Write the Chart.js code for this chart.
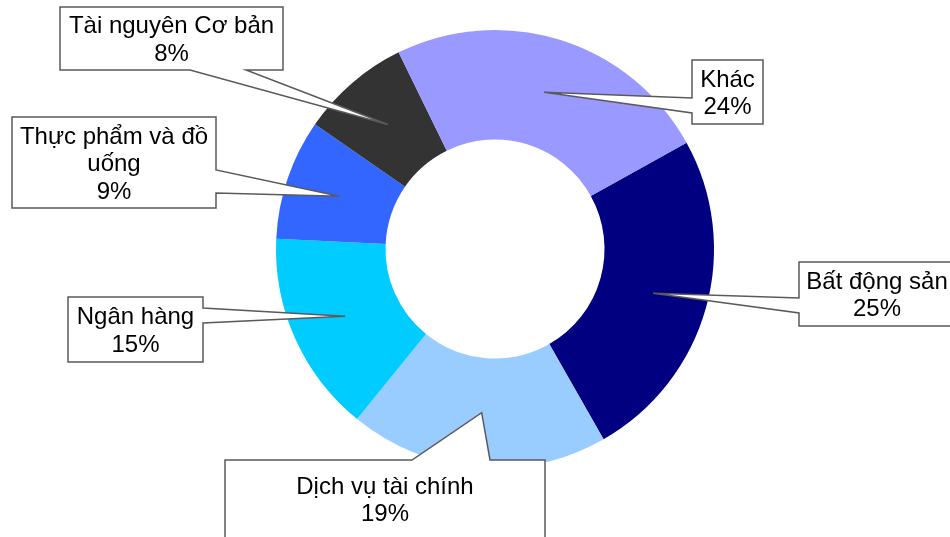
<!DOCTYPE html>
<html>
<head>
<meta charset="utf-8">
<script src="https://cdn.jsdelivr.net/npm/chart.js@4/dist/chart.umd.min.js"></script>
<style>
  html, body { margin: 0; padding: 0; background: #fff; }
  #wrap { width: 950px; height: 537px; position: relative; }
</style>
</head>
<body>
<div id="wrap"><canvas id="chart"></canvas></div>
<script>
// Dữ liệu cơ cấu ngành (%)
const categories = ['Bất động sản', 'Dịch vụ tài chính', 'Ngân hàng', 'Thực phẩm và đồ uống', 'Tài nguyên Cơ bản', 'Khác'];
const shares = [24.8, 19.1, 14.9, 8.9, 8.1, 24.2];
const colors = ['#000080', '#99CCFF', '#00CCFF', '#3366FF', '#333333', '#9999FF'];

// Vị trí hộp chú thích (kiểu "wedge callout" của Excel), cùng thứ tự với categories
const callouts = [
    { x: 799, y: 262, w: 156, h: 64, side: 'left', a: 298, b: 313 },
    { x: 225, y: 460, w: 320, h: 78, side: 'top', a: 412, b: 490 },
    { x: 68, y: 297, w: 135, h: 65, side: 'right', a: 308, b: 323 },
    { x: 12, y: 117, w: 204, h: 91, side: 'right', a: 170, b: 193 },
    { x: 60, y: 7, w: 223, h: 63, side: 'bottom', a: 190, b: 246 },
    { x: 692, y: 60, w: 71, h: 64, side: 'left', a: 98, b: 113 },
];

const FONT = '24px "Liberation Sans", Arial, sans-serif';
const LINE_H = 27.5;

function wrapText(ctx, text, maxW) {
    const words = text.split(' ');
    const lines = [];
    let cur = '';
    words.forEach((w) => {
        const t = cur ? cur + ' ' + w : w;
        if (cur && ctx.measureText(t).width > maxW) {
            lines.push(cur);
            cur = w;
        } else {
            cur = t;
        }
    });
    if (cur) lines.push(cur);
    return lines;
}

const calloutPlugin = {
    id: 'callouts',
    afterDatasetsDraw(chart) {
        const ctx = chart.ctx;
        const meta = chart.getDatasetMeta(0);
        const total = shares.reduce((s, v) => s + v, 0);
        ctx.save();
        ctx.font = FONT;
        meta.data.forEach((arc, i) => {
            const c = callouts[i];
            if (!c) return;
            const tip = arc.tooltipPosition();
            const { x, y, w, h, a, b } = c;
            const pts = [];
            if (c.side === 'bottom') {
                pts.push([x, y], [x + w, y], [x + w, y + h], [b, y + h], [tip.x, tip.y], [a, y + h], [x, y + h]);
            } else if (c.side === 'top') {
                pts.push([x, y], [a, y], [tip.x, tip.y], [b, y], [x + w, y], [x + w, y + h], [x, y + h]);
            } else if (c.side === 'right') {
                pts.push([x, y], [x + w, y], [x + w, a], [tip.x, tip.y], [x + w, b], [x + w, y + h], [x, y + h]);
            } else {
                pts.push([x, y], [x + w, y], [x + w, y + h], [x, y + h], [x, b], [tip.x, tip.y], [x, a]);
            }
            ctx.beginPath();
            pts.forEach((p, k) => (k ? ctx.lineTo(p[0], p[1]) : ctx.moveTo(p[0], p[1])));
            ctx.closePath();
            ctx.fillStyle = '#ffffff';
            ctx.fill();
            ctx.lineWidth = 1.5;
            ctx.strokeStyle = '#5a5a5a';
            ctx.stroke();

            const lines = wrapText(ctx, categories[i], w - 12);
            lines.push(Math.round(shares[i] / total * 100) + '%');
            ctx.fillStyle = '#000000';
            ctx.textAlign = 'center';
            ctx.textBaseline = 'middle';
            const top = y + h / 2 - (lines.length * LINE_H) / 2 + LINE_H / 2;
            lines.forEach((ln, k) => ctx.fillText(ln, x + w / 2, top + k * LINE_H + 2));
        });
        ctx.restore();
    },
};

new Chart(document.getElementById('chart'), {
    type: 'doughnut',
    data: {
        labels: categories,
        datasets: [{
            data: shares,
            backgroundColor: colors,
            borderWidth: 0,
        }],
    },
    options: {
        responsive: true,
        maintainAspectRatio: false,
        animation: false,
        cutout: '50%',
        rotation: 61,
        layout: { padding: { left: 276, right: 236, top: 30, bottom: 69 } },
        plugins: {
            legend: { display: false },
            tooltip: { enabled: false },
        },
    },
    plugins: [calloutPlugin],
});
</script>
</body>
</html>
